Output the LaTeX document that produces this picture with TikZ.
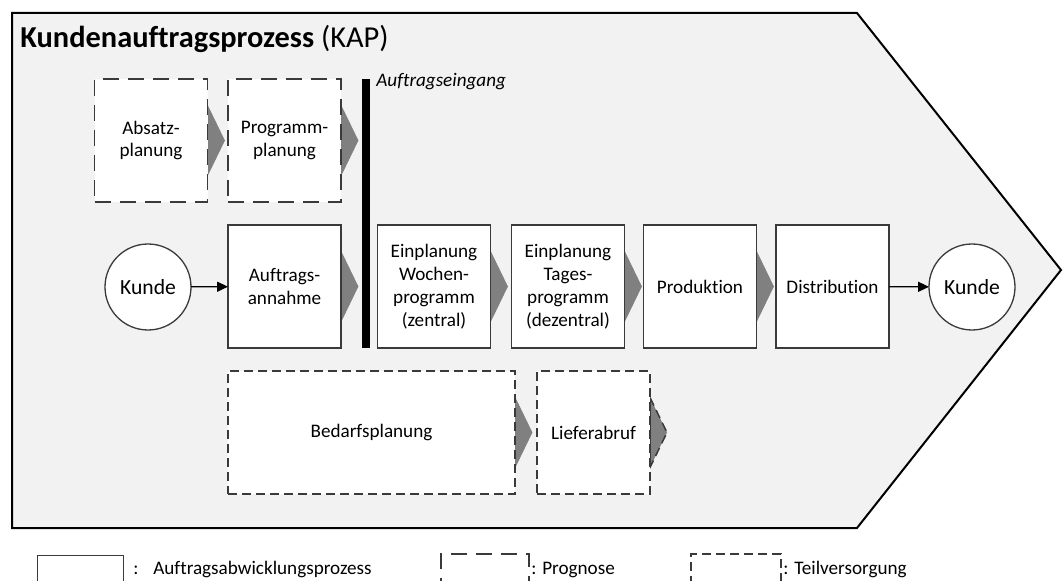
\documentclass[tikz,border=0pt]{standalone}
\usepackage{fontspec}
\setmainfont{Carlito}[Ligatures=NoCommon]
\usetikzlibrary{arrows.meta}
\newlength\pxu
\setlength\pxu{0.02cm}
\newcommand{\boxfont}{\fontsize{10.9}{13}\selectfont}
\definecolor{boxline}{HTML}{3A3A3A}
\definecolor{panel}{HTML}{F2F2F2}
\definecolor{chevgray}{HTML}{808080}
\pgfdeclarelayer{bg}
\pgfdeclarelayer{mid}
\pgfsetlayers{bg,mid,main}
% gray chevron behind the right edge of a process box
\newcommand{\chevron}[2][]{%
  \begin{pgfonlayer}{mid}
    \filldraw[chevgray,#1] (#2.east) ++(0,-35) -- ++(17,35) -- ++(-17,35) -- cycle;
  \end{pgfonlayer}}
\begin{document}
\begin{tikzpicture}[x=0.02cm,y=-0.02cm,
  proc/.style={draw=boxline, fill=white, line width=1.3\pxu,
    minimum width=113\pxu, minimum height=123\pxu,
    inner sep=0pt, outer sep=0pt, align=center, font=\boxfont},
  prog/.style={proc, line width=1.7\pxu, dash pattern=on 16\pxu off 9\pxu},
  teil/.style={proc, line width=1.7\pxu, dash pattern=on 9\pxu off 5\pxu},
  kunde/.style={circle, draw=boxline, fill=white, line width=1.3\pxu,
    minimum size=86\pxu, inner sep=0pt, outer sep=0pt,
    font=\fontsize{12.3}{14}\selectfont},
  flow/.style={line width=1.2\pxu, -{Triangle[length=6.2pt,width=5.7pt]}},
  legend/.style={anchor=base west, inner sep=0pt, font=\boxfont}]

\clip (0,0) rectangle (1063,581);

% process arrow panel
\begin{pgfonlayer}{bg}
  \filldraw[fill=panel, draw=black, line width=2\pxu, line join=miter]
    (12,13) -- (857,13) -- (1061,270) -- (857,528) -- (12,528) -- cycle;
\end{pgfonlayer}

\node[anchor=base west, inner sep=0pt, font=\fontsize{17.3}{21}\selectfont]
  (title) at (20,48) {\textbf{Kundenauftragsprozess} (KAP)};

% planning row
\node[prog] (absatz) at (151,140.5) {Absatz-\\planung};
\node[prog] (programm) at (284.5,140.5) {Programm-\\planung};

% order entry line
\node[fill=black, minimum width=8\pxu, minimum height=269\pxu,
  inner sep=0pt, outer sep=0pt] (bar) at (366,213.5) {};
\node[anchor=base west, inner sep=0pt, font=\boxfont\itshape]
  (eingang) at (376,87) {Auftragseingang};

% order processing row
\node[kunde] (kunde1) at (148,287) {Kunde};
\node[proc] (annahme) at (284.5,286.5) {Auftrags-\\annahme};
\node[proc] (woche) at (434,286.5) {Einplanung\\Wochen-\\programm\\(zentral)};
\node[proc] (tages) at (568,286.5) {Einplanung\\Tages-\\programm\\(dezentral)};
\node[proc] (prod) at (700,286.5) {Produktion};
\node[proc] (dist) at (832.5,286.5) {Distribution};
\node[kunde] (kunde2) at (972,287) {Kunde};

% supply row
\node[teil, minimum width=287\pxu] (bedarf) at (371.5,432.5) {Bedarfsplanung};
\node[teil] (liefer) at (593.5,432.5) {Lieferabruf};

\chevron{absatz}
\chevron{programm}
\chevron{annahme}
\chevron{woche}
\chevron{tages}
\chevron{prod}
\chevron{bedarf}
\chevron[draw=boxline, line width=1.5\pxu, dash pattern=on 9\pxu off 5\pxu]{liefer}

\draw[flow] (kunde1) -- (annahme);
\draw[flow] (dist) -- (kunde2);

% legend
\node[draw=boxline, line width=1.3\pxu, minimum width=86\pxu, minimum height=50\pxu,
  inner sep=0pt, anchor=north west] (lg1) at (37,555) {};
\node[legend] (lt1a) at (133,574) {:};
\node[legend] (lt1) at (153,574) {Auftragsabwicklungsprozess};
\node[draw=boxline, line width=1.5\pxu, dash pattern=on 16\pxu off 9\pxu,
  minimum width=88\pxu, minimum height=50\pxu,
  inner sep=0pt, anchor=north west] (lg2) at (440,553) {};
\node[legend] (lt2) at (531,574) {: Prognose};
\node[draw=boxline, line width=1.5\pxu, dash pattern=on 9\pxu off 5\pxu,
  minimum width=90\pxu, minimum height=50\pxu,
  inner sep=0pt, anchor=north west] (lg3) at (690,553) {};
\node[legend] (lt3) at (783,574) {: Teilversorgung};
\end{tikzpicture}
\end{document}
